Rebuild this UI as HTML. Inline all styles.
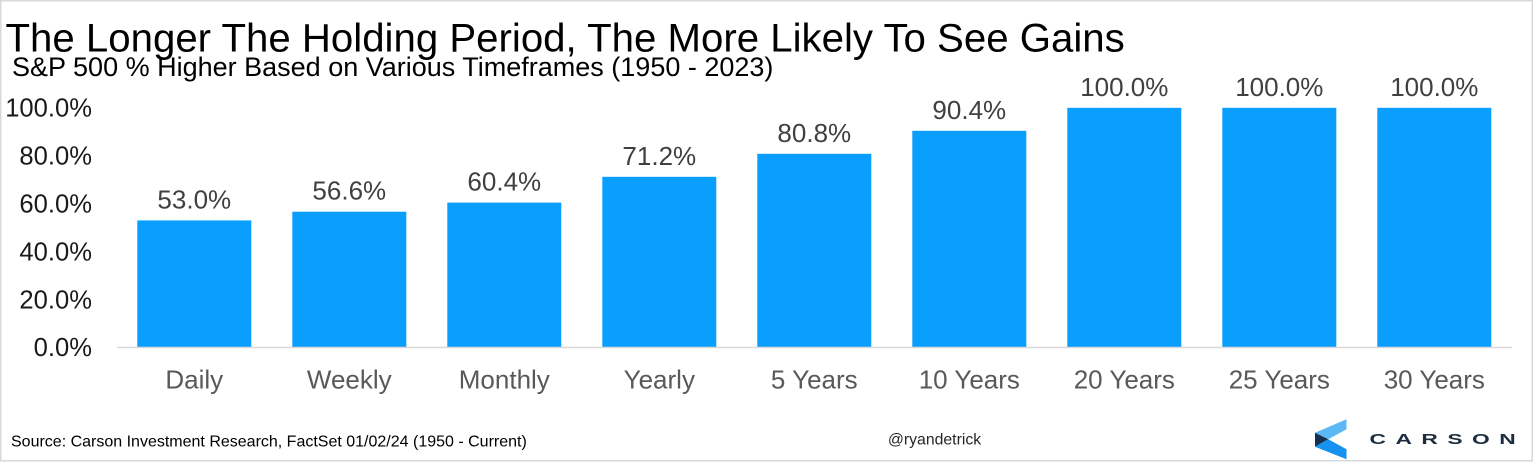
<!DOCTYPE html>
<html>
<head>
<meta charset="utf-8">
<style>
html,body{margin:0;padding:0;background:#fff;}
svg{display:block;}
text{font-family:"Liberation Sans",Arial,sans-serif;}
</style>
</head>
<body>
<svg width="1536" height="467" viewBox="0 0 1536 467" xmlns="http://www.w3.org/2000/svg">
<rect x="0" y="0" width="1536" height="467" fill="#fff"/>
<!-- frame -->
<rect x="0.75" y="0.75" width="1531.5" height="460" fill="none" stroke="#d9d9d9" stroke-width="1.5"/>

<text x="5.5" y="51.5" font-size="40.2" fill="#000">The Longer The Holding Period, The More Likely To See Gains</text>
<text x="12" y="76" font-size="27" fill="#000">S&amp;P 500 % Higher Based on Various Timeframes (1950 - 2023)</text>

<!-- y ticks -->
<g font-size="25.6" fill="#1a1a1a" text-anchor="end">
<text x="92" y="116.7">100.0%</text>
<text x="92" y="164.6">80.0%</text>
<text x="92" y="212.5">60.0%</text>
<text x="92" y="260.4">40.0%</text>
<text x="92" y="308.3">20.0%</text>
<text x="92" y="356.2">0.0%</text>
</g>

<!-- bars -->
<g fill="#0a9eff">
<rect x="137.3" y="220.4" width="114" height="126.9"/>
<rect x="292.3" y="211.7" width="114" height="135.6"/>
<rect x="447.3" y="202.6" width="114" height="144.7"/>
<rect x="602.3" y="176.8" width="114" height="170.5"/>
<rect x="757.3" y="153.8" width="114" height="193.5"/>
<rect x="912.3" y="130.8" width="114" height="216.5"/>
<rect x="1067.3" y="107.8" width="114" height="239.5"/>
<rect x="1222.3" y="107.8" width="114" height="239.5"/>
<rect x="1377.3" y="107.8" width="114" height="239.5"/>
</g>

<!-- axis -->
<line x1="117" y1="347.5" x2="1512" y2="347.5" stroke="#d9d9d9" stroke-width="1.5"/>

<!-- data labels -->
<g font-size="26" fill="#404040" text-anchor="middle">
<text x="194.3" y="208.4">53.0%</text>
<text x="349.3" y="199.7">56.6%</text>
<text x="504.3" y="190.6">60.4%</text>
<text x="659.3" y="164.8">71.2%</text>
<text x="814.3" y="141.8">80.8%</text>
<text x="969.3" y="118.8">90.4%</text>
<text x="1124.3" y="95.8">100.0%</text>
<text x="1279.3" y="95.8">100.0%</text>
<text x="1434.3" y="95.8">100.0%</text>
</g>

<!-- category labels -->
<g font-size="26" fill="#595959" text-anchor="middle">
<text x="194.3" y="388.3">Daily</text>
<text x="349.3" y="388.3">Weekly</text>
<text x="504.3" y="388.3">Monthly</text>
<text x="659.3" y="388.3">Yearly</text>
<text x="814.3" y="388.3">5 Years</text>
<text x="969.3" y="388.3">10 Years</text>
<text x="1124.3" y="388.3">20 Years</text>
<text x="1279.3" y="388.3">25 Years</text>
<text x="1434.3" y="388.3">30 Years</text>
</g>

<!-- footer -->
<text x="11" y="446.5" font-size="16" fill="#000">Source: Carson Investment Research, FactSet 01/02/24 (1950 - Current)</text>
<text x="934.5" y="444.5" font-size="15.8" fill="#262626" text-anchor="middle">@ryandetrick</text>

<!-- logo -->
<polygon points="1315,432.7 1346.5,419.3 1346.5,429.3 1328.3,439.3" fill="#5cb8f5"/>
<polygon points="1315,432.7 1328.3,439.3 1315,446.7" fill="#14304d"/>
<polygon points="1315,446.7 1328.3,439.3 1346.5,449.3 1346.5,459.3" fill="#1592f0"/>
<g transform="translate(1369.5,444.2) scale(1.5,1)">
<text x="0" y="0" font-size="15.2" fill="#1c2d40" font-weight="bold" textLength="97.5" lengthAdjust="spacing">CARSON</text>
</g>
</svg>
</body>
</html>
